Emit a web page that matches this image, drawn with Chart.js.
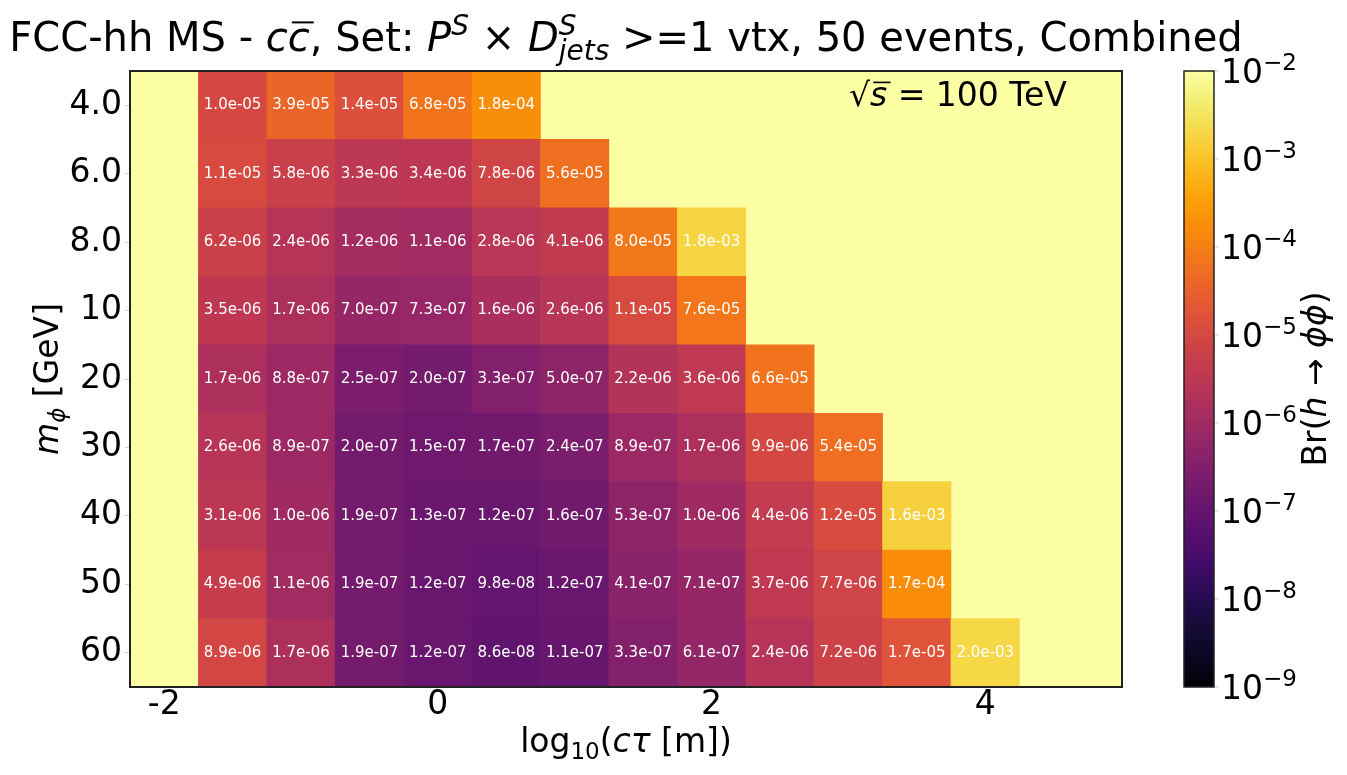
<!DOCTYPE html>
<html>
<head>
<meta charset="utf-8">
<script src="https://cdn.jsdelivr.net/npm/chart.js@4.4.1/dist/chart.umd.min.js"></script>
<style>
html, body { margin: 0; padding: 0; background: #fff; }
#wrap { width: 1347px; height: 775px; }
</style>
</head>
<body>
<div id="wrap"><canvas id="heat"></canvas></div>
<script>
const masses = ['4.0', '6.0', '8.0', '10', '20', '30', '40', '50', '60'];
const logCtau = [-1.5, -1.0, -0.5, 0.0, 0.5, 1.0, 1.5, 2.0, 2.5, 3.0, 3.5, 4.0];
// Br limits per mass row, starting at log10(ctau) = -1.5
const br_4 = [1.0e-05, 3.9e-05, 1.4e-05, 6.8e-05, 1.8e-04];
const br_6 = [1.1e-05, 5.8e-06, 3.3e-06, 3.4e-06, 7.8e-06, 5.6e-05];
const br_8 = [6.2e-06, 2.4e-06, 1.2e-06, 1.1e-06, 2.8e-06, 4.1e-06, 8.0e-05, 1.8e-03];
const br_10 = [3.5e-06, 1.7e-06, 7.0e-07, 7.3e-07, 1.6e-06, 2.6e-06, 1.1e-05, 7.6e-05];
const br_20 = [1.7e-06, 8.8e-07, 2.5e-07, 2.0e-07, 3.3e-07, 5.0e-07, 2.2e-06, 3.6e-06, 6.6e-05];
const br_30 = [2.6e-06, 8.9e-07, 2.0e-07, 1.5e-07, 1.7e-07, 2.4e-07, 8.9e-07, 1.7e-06, 9.9e-06, 5.4e-05];
const br_40 = [3.1e-06, 1.0e-06, 1.9e-07, 1.3e-07, 1.2e-07, 1.6e-07, 5.3e-07, 1.0e-06, 4.4e-06, 1.2e-05, 1.6e-03];
const br_50 = [4.9e-06, 1.1e-06, 1.9e-07, 1.2e-07, 9.8e-08, 1.2e-07, 4.1e-07, 7.1e-07, 3.7e-06, 7.7e-06, 1.7e-04];
const br_60 = [8.9e-06, 1.7e-06, 1.9e-07, 1.2e-07, 8.6e-08, 1.1e-07, 3.3e-07, 6.1e-07, 2.4e-06, 7.2e-06, 1.7e-05, 2.0e-03];
const xTicks = [-2, 0, 2, 4];
const cbarExp = [-9, -8, -7, -6, -5, -4, -3, -2];

const FONT = "'DejaVu Sans'";
const rows = [br_4, br_6, br_8, br_10, br_20, br_30, br_40, br_50, br_60];
const halfW = (logCtau[1] - logCtau[0]) / 2;

const cells = [];
rows.forEach((row, i) => {
    row.forEach((v, j) => {
        cells.push({ y: masses[i], x: [logCtau[j] - halfW, logCtau[j] + halfW], v: v });
    });
});

// inferno colormap, stops every 0.05
const infernoStops = [
    [0, 0, 4], [10, 7, 34], [22, 11, 57], [40, 11, 84], [66, 10, 104], [87, 16, 110],
    [106, 23, 110], [126, 30, 108], [147, 38, 103], [168, 46, 95], [188, 55, 84],
    [205, 66, 71], [221, 81, 58], [234, 99, 42], [243, 120, 25], [249, 142, 9],
    [252, 165, 10], [250, 190, 36], [246, 215, 70], [242, 238, 113], [252, 255, 164]
];
function inferno(t) {
    t = Math.max(0, Math.min(1, t));
    const p = t * (infernoStops.length - 1);
    const i = Math.min(Math.floor(p), infernoStops.length - 2);
    const f = p - i;
    const a = infernoStops[i], b = infernoStops[i + 1];
    const c = a.map((x, k) => Math.round(x + (b[k] - x) * f));
    return 'rgb(' + c.join(',') + ')';
}
const logMin = -9, logMax = -2;
const colorOf = v => inferno((Math.log10(v) - logMin) / (logMax - logMin));

function fmt(v) {
    const parts = v.toExponential(1).split('e');
    const e = parseInt(parts[1], 10);
    return parts[0] + 'e' + (e < 0 ? '-' : '+') + String(Math.abs(e)).padStart(2, '0');
}

// small rich-text drawer: i = italic, p = superscript, b = subscript, o = overline, n = no advance
function drawRich(ctx, segs, x, y, size, align, rot) {
    let w = 0;
    const items = segs.map(s => {
        const st = s[1];
        const sc = (st.includes('p') || st.includes('b')) ? 0.7 : 1;
        const font = (st.includes('i') ? 'italic ' : '') + Math.round(size * sc) + 'px ' + FONT;
        ctx.font = font;
        const width = ctx.measureText(s[0]).width;
        if (!st.includes('n')) w += width;
        return { t: s[0], st: st, font: font, w: width };
    });
    ctx.save();
    ctx.translate(x, y);
    if (rot) ctx.rotate(rot);
    ctx.textAlign = 'left';
    ctx.textBaseline = 'alphabetic';
    ctx.fillStyle = '#000';
    let cx = align === 'center' ? -w / 2 : (align === 'right' ? -w : 0);
    items.forEach(it => {
        let dy = 0;
        if (it.st.includes('p')) dy = -0.4 * size;
        if (it.st.includes('b')) dy = 0.22 * size;
        ctx.font = it.font;
        ctx.fillText(it.t, cx, dy);
        if (it.st.includes('o')) {
            const sh = it.st.includes('i') ? 0.1 * size : 0;
            ctx.fillRect(cx + sh, -0.74 * size, it.w, 0.05 * size);
        }
        if (!it.st.includes('n')) cx += it.w;
    });
    ctx.restore();
}

const heatPlugin = {
    id: 'heat',
    beforeDraw(chart) {
        const { ctx, chartArea: a } = chart;
        ctx.save();
        ctx.fillStyle = inferno(1);
        ctx.fillRect(a.left, a.top, a.right - a.left, a.bottom - a.top);
        ctx.restore();
    },
    afterDatasetsDraw(chart) {
        const { ctx, chartArea: a } = chart;
        const meta = chart.getDatasetMeta(0);
        ctx.save();
        ctx.fillStyle = '#fff';
        ctx.font = '15px ' + FONT;
        ctx.textAlign = 'center';
        ctx.textBaseline = 'middle';
        meta.data.forEach((bar, i) => {
            const c = bar.getCenterPoint();
            ctx.fillText(fmt(cells[i].v), c.x, c.y);
        });
        ctx.strokeStyle = '#222';
        ctx.lineWidth = 2;
        ctx.strokeRect(a.left, a.top, a.right - a.left, a.bottom - a.top);
        ctx.restore();
    },
    afterDraw(chart) {
        const { ctx, chartArea: a } = chart;
        const mid = (a.left + a.right) / 2;
        // title
        drawRich(ctx, [['FCC-hh MS - ', ''], ['c', 'i'], ['c', 'io'], [', Set: ', ''], ['P', 'i'], ['S', 'ip'],
            [' × ', ''], ['D', 'i'], ['S', 'ipn'], ['jets', 'ib'], [' >=1 vtx, 50 events, Combined', '']],
            mid, 51, 40, 'center');
        // axis titles
        drawRich(ctx, [['log', ''], ['10', 'b'], ['(', ''], ['cτ', 'i'], [' [m])', '']], mid, 752, 33, 'center');
        drawRich(ctx, [['m', 'i'], ['ϕ', 'ib'], [' [GeV]', '']], 58, (a.top + a.bottom) / 2, 33, 'center', -Math.PI / 2);
        // energy label
        drawRich(ctx, [['√', ''], ['s', 'io'], [' = 100 TeV', '']], 849, 106, 33, 'left');

        // colorbar
        const cbL = 1184, cbW = 30, top = a.top, bot = a.bottom;
        const grad = ctx.createLinearGradient(0, bot, 0, top);
        for (let k = 0; k <= 40; k++) grad.addColorStop(k / 40, inferno(k / 40));
        ctx.save();
        ctx.fillStyle = grad;
        ctx.fillRect(cbL, top, cbW, bot - top);
        ctx.strokeStyle = '#222';
        ctx.lineWidth = 1.5;
        ctx.strokeRect(cbL, top, cbW, bot - top);
        ctx.strokeStyle = '#cfcfcf';
        ctx.lineWidth = 1;
        cbarExp.forEach(e => {
            const y = bot - (e - logMin) / (logMax - logMin) * (bot - top);
            ctx.beginPath();
            ctx.moveTo(cbL + cbW + 1, y);
            ctx.lineTo(cbL + cbW + 5, y);
            ctx.stroke();
            drawRich(ctx, [['10', ''], ['−' + Math.abs(e), 'p']], cbL + cbW + 7, y + 12, 33, 'left');
        });
        ctx.restore();
        drawRich(ctx, [['Br(', ''], ['h', 'i'], [' → ', ''], ['ϕϕ', 'i'], [')', '']], 1326, (top + bot) / 2, 33, 'center', -Math.PI / 2);
    }
};

new Chart(document.getElementById('heat'), {
    type: 'bar',
    plugins: [heatPlugin],
    data: {
        labels: masses,
        datasets: [{
            data: cells,
            backgroundColor: ctx => colorOf(ctx.raw.v),
            borderWidth: 0,
            barPercentage: 1,
            categoryPercentage: 1
        }]
    },
    options: {
        indexAxis: 'y',
        responsive: true,
        maintainAspectRatio: false,
        animation: false,
        events: [],
        layout: { padding: { top: 71, right: 225, bottom: 0, left: 0 } },
        plugins: {
            legend: { display: false },
            tooltip: { enabled: false },
            title: { display: false }
        },
        scales: {
            x: {
                type: 'linear',
                min: -2.25,
                max: 5,
                afterBuildTicks: s => { s.ticks = xTicks.map(v => ({ value: v })); },
                afterFit: s => { s.height = 88; },
                ticks: {
                    callback: v => String(v),
                    font: { family: FONT, size: 33, lineHeight: 0.9 },
                    color: '#000',
                    padding: 0,
                    maxRotation: 0
                },
                grid: { display: true, drawOnChartArea: false, drawTicks: true, tickLength: 4, color: '#cfcfcf' },
                border: { display: false }
            },
            y: {
                type: 'category',
                afterFit: s => { s.width = 130; },
                ticks: {
                    font: { family: FONT, size: 33 },
                    color: '#000',
                    padding: 3
                },
                grid: { display: true, drawOnChartArea: false, drawTicks: true, tickLength: 5, color: '#cfcfcf', offset: false },
                border: { display: false }
            }
        }
    }
});
</script>
</body>
</html>
